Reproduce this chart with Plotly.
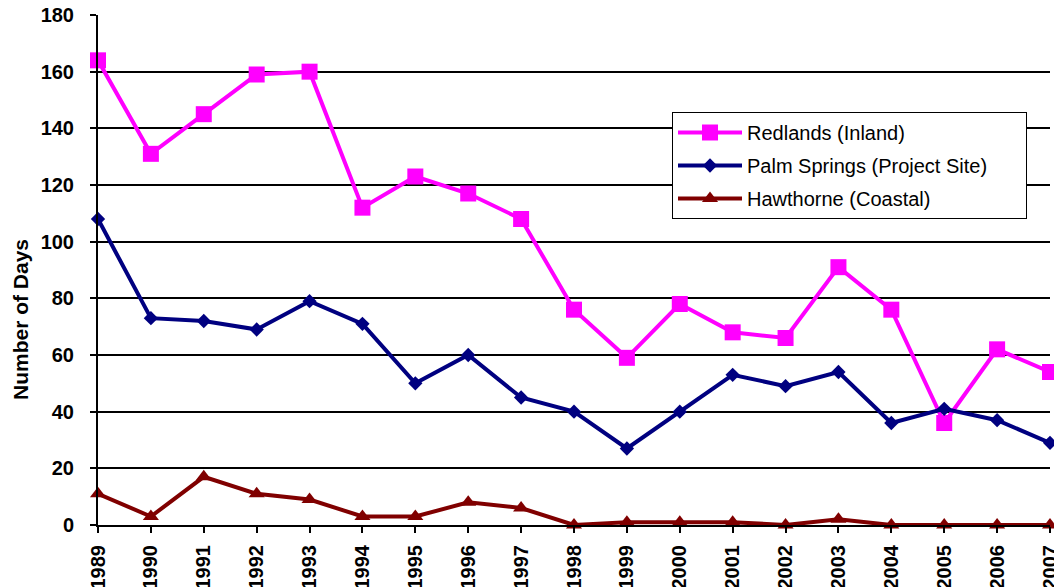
import plotly.graph_objects as go

years = list(range(1989, 2008))
redlands = [164, 131, 145, 159, 160, 112, 123, 117, 108, 76, 59, 78, 68, 66, 91, 76, 36, 62, 54]
palm_springs = [108, 73, 72, 69, 79, 71, 50, 60, 45, 40, 27, 40, 53, 49, 54, 36, 41, 37, 29]
hawthorne = [11, 3, 17, 11, 9, 3, 3, 8, 6, 0, 1, 1, 1, 0, 2, 0, 0, 0, 0]
tick_labels = [str(y) for y in years]

FONT = "Liberation Sans, Arial, sans-serif"
NB = "\u00a0"

fig = go.Figure()
series = [
    ("Redlands (Inland)", redlands, "#FF00FF", "square", 16),
    ("Palm Springs (Project Site)" + NB * 6, palm_springs, "#000080", "diamond", 11),
    ("Hawthorne (Coastal)", hawthorne, "#800000", "triangle-up", 14),
]
for i, (name, vals, color, sym, size) in enumerate(series):
    fig.add_trace(go.Scatter(
        x=years, y=vals, name=name, mode="lines+markers",
        line=dict(color=color, width=4),
        marker=dict(color=color, symbol=sym, size=size),
        cliponaxis=False, legendgroup=f"g{i}",
    ))

W, H = 1054, 579
L, R, T, B = 90, 12, 7, 62
pw, ph = W - L - R, H - T - B

fig.update_layout(
    width=W, height=H,
    margin=dict(l=L, r=R, t=T, b=B),
    paper_bgcolor="white", plot_bgcolor="white",
    font=dict(family=FONT, color="black"),
    showlegend=True,
    legend=dict(
        x=(664 - L) / pw, y=(517 - 104) / ph, xanchor="left", yanchor="top",
        bgcolor="white", bordercolor="black", borderwidth=1,
        font=dict(size=20, family=FONT, color="black"),
        traceorder="grouped", tracegroupgap=4, itemwidth=64,
    ),
    xaxis=dict(
        range=[1989, 2007], tickmode="array", tickvals=years, ticktext=tick_labels,
        tickangle=-90, tickfont=dict(size=20, family=FONT, weight="bold"),
        showgrid=False, zeroline=False,
        showline=True, linecolor="black", linewidth=2,
        ticks="outside", ticklen=6, tickwidth=2, tickcolor="black",
        ticklabelstandoff=4, automargin=False, ticklabeloverflow="allow",
    ),
    yaxis=dict(
        range=[0, 180], tickmode="linear", tick0=0, dtick=20,
        tickfont=dict(size=20, family=FONT, weight="bold"),
        showgrid=True, gridcolor="black", gridwidth=2, zeroline=False,
        showline=True, linecolor="black", linewidth=2,
        ticks="outside", ticklen=6, tickwidth=2, tickcolor="black",
        ticklabelstandoff=12, automargin=False, ticklabeloverflow="allow",
    ),
    annotations=[dict(
        text="<b>Number of Days</b>", textangle=-90, showarrow=False,
        xref="paper", x=0, xanchor="center", xshift=12 - L,
        yref="paper", y=(517 - 312) / ph, yanchor="middle",
        font=dict(size=21, family=FONT, color="black"),
    )],
)

fig.write_html("out.html")
